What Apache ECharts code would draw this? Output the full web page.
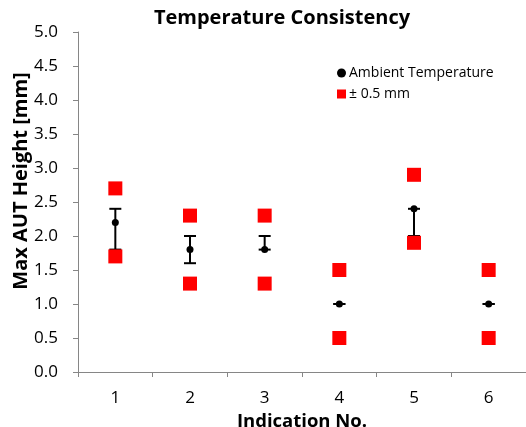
<!DOCTYPE html>
<html><head><meta charset="utf-8">
<script src="https://cdn.jsdelivr.net/npm/echarts@6/dist/echarts.min.js"></script>
<style>html,body{margin:0;padding:0;background:#fff}#c{width:526px;height:427px}</style>
</head><body><div id="c"></div>
<script>
const categories = ['1','2','3','4','5','6'];
const ambient = [2.2, 1.8, 1.8, 1.0, 2.4, 1.0];
const errLow = [1.8, 1.6, 1.8, 1.0, 2.0, 1.0];
const errHigh = [2.4, 2.0, 2.0, 1.0, 2.4, 1.0];
const tolUpper = [2.7, 2.3, 2.3, 1.5, 2.9, 1.5];
const tolLower = [1.7, 1.3, 1.3, 0.5, 1.9, 0.5];
const yTicks = [0, 0.5, 1.0, 1.5, 2.0, 2.5, 3.0, 3.5, 4.0, 4.5, 5.0];

const FONT = '"Open Sans", "Noto Sans", sans-serif';
const chart = echarts.init(document.getElementById('c'), null, {renderer:'canvas'});
const errData = categories.map((c,i)=>[i, errLow[i], errHigh[i]]);
const tolData = [];
categories.forEach((c,i)=>{ tolData.push([i, tolUpper[i]]); tolData.push([i, tolLower[i]]); });

chart.setOption({
  animation:false,
  backgroundColor:'#fff',
  title:{text:'Temperature Consistency', left:277, top:3, textAlign:'center',
    textStyle:{fontFamily:FONT, fontSize:20, fontWeight:'bold', color:'#000'}},
  legend:{orient:'vertical', left:332, top:61, itemGap:7, itemWidth:9, itemHeight:9,
    textStyle:{fontFamily:FONT, fontSize:14, color:'#000', padding:[0,0,0,-2]},
    data:[{name:'Ambient Temperature', icon:'circle'},{name:'± 0.5 mm', icon:'rect'}]},
  grid:{left:78, right:0, top:32, bottom:55, containLabel:false, outerBoundsMode:'none'},
  graphic:[{type:'text', x:21, y:181, rotation:Math.PI/2,
    style:{text:'Max AUT Height [mm]', font:'bold 20px ' + FONT, fill:'#000',
      align:'center', verticalAlign:'middle'}}],
  xAxis:{type:'category', data:categories, boundaryGap:true,
    name:'Indication No.', nameLocation:'middle', nameGap:40,
    nameTextStyle:{fontFamily:FONT, fontSize:18.5, fontWeight:'bold', color:'#000'},
    axisLine:{lineStyle:{color:'#868686', width:1}},
    axisTick:{show:true, length:5, lineStyle:{color:'#868686'}},
    axisLabel:{fontFamily:FONT, fontSize:17, color:'#000', margin:18},
    splitLine:{show:false}},
  yAxis:{type:'value', min:yTicks[0], max:yTicks[yTicks.length-1], interval:0.5,
    axisLine:{show:true, lineStyle:{color:'#868686', width:1}},
    axisTick:{show:true, length:5, lineStyle:{color:'#868686'}},
    axisLabel:{fontFamily:FONT, fontSize:17, color:'#000', margin:20, formatter:v=>v.toFixed(1)},
    splitLine:{show:false}},
  series:[
    {type:'custom', name:'err', z:2, data:errData,
      renderItem:function(params, api){
        const x = api.value(0);
        const lo = api.coord([x, api.value(1)]);
        const hi = api.coord([x, api.value(2)]);
        const w = 6;
        const st = {stroke:'#000', lineWidth:2};
        return {type:'group', children:[
          {type:'line', shape:{x1:lo[0], y1:lo[1], x2:hi[0], y2:hi[1]}, style:st},
          {type:'line', shape:{x1:lo[0]-w, y1:lo[1], x2:lo[0]+w, y2:lo[1]}, style:st},
          {type:'line', shape:{x1:hi[0]-w, y1:hi[1], x2:hi[0]+w, y2:hi[1]}, style:st}
        ]};
      }},
    {type:'scatter', name:'Ambient Temperature', z:3, symbol:'circle', symbolSize:7,
      itemStyle:{color:'#000', opacity:1}, data:ambient},
    {type:'scatter', name:'± 0.5 mm', z:4, symbol:'rect', symbolSize:14,
      itemStyle:{color:'#ff0000', opacity:1}, data:tolData}
  ]
});
</script></body></html>
